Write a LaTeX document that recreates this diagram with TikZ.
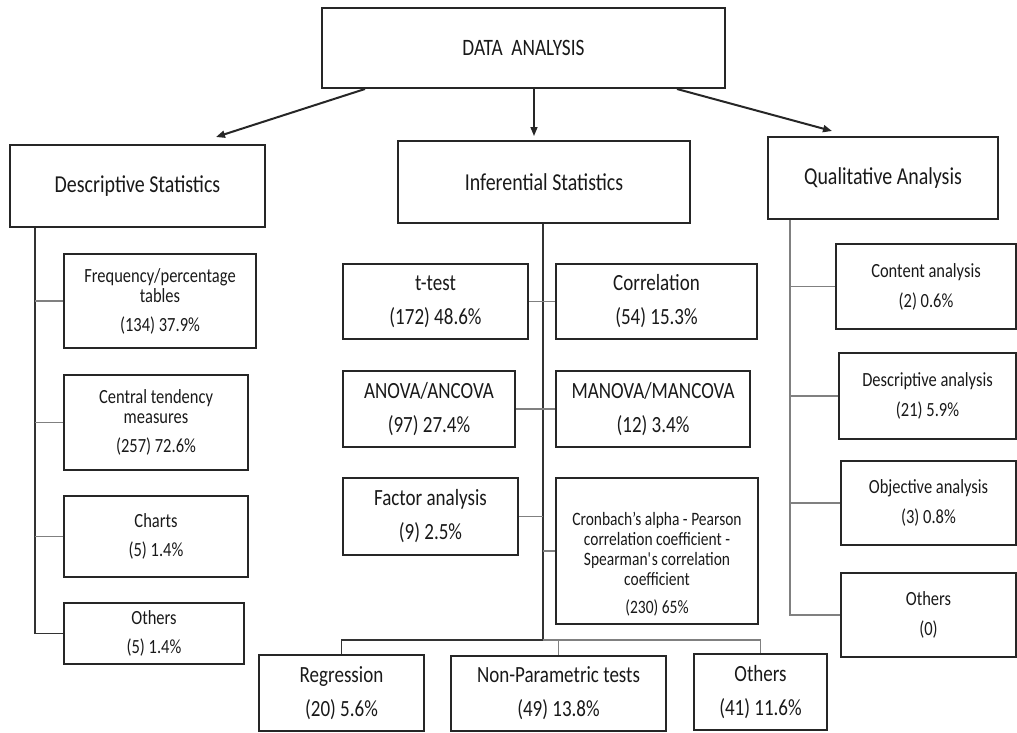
\documentclass[tikz,border=0pt]{standalone}
\usepackage{fontspec}
\setmainfont[FakeStretch=0.82]{Carlito}
\usetikzlibrary{arrows.meta}

\begin{document}
\begin{tikzpicture}[x=1pt, y=-1pt,
        box/.style={draw=black!85, line width=2pt, align=center, inner sep=0pt, text=black!90},
        hdr/.style={box, font=\fontsize{24.3}{26}\selectfont},
        sub/.style={box, font=\fontsize{20.1}{20}\selectfont},
        big/.style={box, font=\fontsize{23.2}{23}\selectfont},
        link/.style={draw=black!50, line width=1.5pt},
        trunk/.style={draw=black!80, line width=1.5pt},
        arr/.style={draw=black!85, line width=2pt, -{Triangle[length=9pt,width=7pt]}}]
        \useasboundingbox (0,0) rectangle (1017,732);

        \node[box, minimum width=403pt, minimum height=80pt, font=\fontsize{23.5}{24}\selectfont] (top) at (523.5,48) {DATA\ \ ANALYSIS};
        \node[hdr, minimum width=255pt, minimum height=82pt] (desc) at (137.5,186) {Descriptive Statistics};
        \node[hdr, minimum width=292pt, minimum height=82pt] (infer) at (544,182) {Inferential Statistics};
        \node[hdr, minimum width=230pt, minimum height=82pt] (qual) at (883,178) {Qualitative Analysis};

        % descriptive
        \node[sub, minimum width=192pt, minimum height=94pt] (freq) at (160,301) {Frequency/percentage\\tables\\[9pt](134) 37.9\%};
        \node[sub, minimum width=184pt, minimum height=95pt] (central) at (156,422.5) {Central tendency\\measures\\[9pt](257) 72.6\%};
        \node[sub, minimum width=184pt, minimum height=81pt] (charts) at (156,536.5) {Charts\\[9pt](5) 1.4\%};
        \node[sub, minimum width=180pt, minimum height=61pt] (oth1) at (154,633.5) {Others\\[9pt](5) 1.4\%};

        % inferential
        \node[big, minimum width=185pt, minimum height=75pt] (ttest) at (435.5,301.5) {t-test\\[11pt](172) 48.6\%};
        \node[big, minimum width=201pt, minimum height=75pt] (corr) at (656.5,301.5) {Correlation\\[11pt](54) 15.3\%};
        \node[big, minimum width=172pt, minimum height=76pt] (anova) at (429,409) {ANOVA/ANCOVA\\[11pt](97) 27.4\%};
        \node[big, minimum width=194pt, minimum height=76pt] (manova) at (653,409) {MANOVA/MANCOVA\\[11pt](12) 3.4\%};
        \node[big, minimum width=175pt, minimum height=77pt] (factor) at (430.5,516.5) {Factor analysis\\[11pt](9) 2.5\%};
        \node[box, minimum width=202pt, minimum height=146pt, font=\fontsize{18.9}{20}\selectfont] (cronb) at (657,551)
            {\mbox{}\\[20pt]Cronbach’s alpha - Pearson\\correlation coefficient -\\Spearman\textquotesingle s correlation\\coefficient\\[8pt](230) 65\%};
        \node[big, minimum width=165pt, minimum height=76pt] (regr) at (341.5,693) {Regression\\[11pt](20) 5.6\%};
        \node[big, minimum width=215pt, minimum height=75pt] (nonpar) at (558.5,693.5) {Non-Parametric tests\\[11pt](49) 13.8\%};
        \node[big, minimum width=133pt, minimum height=76pt] (oth2) at (760.5,692) {Others\\[11pt](41) 11.6\%};

        % qualitative
        \node[sub, minimum width=180pt, minimum height=85pt] (content) at (926,286.5) {Content analysis\\[10pt](2) 0.6\%};
        \node[sub, minimum width=177pt, minimum height=86pt] (descan) at (927.5,396) {Descriptive analysis\\[10pt](21) 5.9\%};
        \node[sub, minimum width=175pt, minimum height=84pt] (objan) at (928.5,503) {Objective analysis\\[10pt](3) 0.8\%};
        \node[sub, minimum width=175pt, minimum height=84pt] (oth3) at (928.5,615) {Others\\[10pt](0)};

        % arrows from the top
        \draw[arr] ([xshift=44pt]top.south west) -- ([xshift=207pt,yshift=7pt]desc.north west);
        \draw[arr, line width=1.5pt] ([xshift=10.5pt]top.south) -- ([xshift=-10pt,yshift=4pt]infer.north);
        \draw[arr] ([xshift=-49pt]top.south east) -- ([xshift=65pt,yshift=5pt]qual.north west);

        % descriptive tree
        \coordinate (dt) at ([xshift=26pt]desc.south west);
        \draw[trunk] (dt) |- (oth1.west);
        \foreach \n in {freq,central,charts}
            \draw[link] (\n.west) -- (\n.west -| dt);

        % inferential tree
        \draw[trunk] ([xshift=-1pt]infer.south) -- ++(0,416) coordinate (bus);
        \draw[trunk] (bus) -| (regr.north);
        \draw[link] (bus) -| (nonpar.north);
        \draw[link] (bus) -| (oth2.north);
        \draw[link] (ttest.east) -- (corr.west);
        \draw[link] (anova.east) -- (manova.west);
        \draw[link] (factor.east) -- (factor.east -| bus);
        \draw[link] (cronb.west) -- (cronb.west -| bus);

        % qualitative tree
        \coordinate (qt) at ([xshift=23pt]qual.south west);
        \draw[link] (qt) |- (oth3.west);
        \foreach \n in {content,descan,objan}
            \draw[link] (\n.west) -- (\n.west -| qt);
    \end{tikzpicture}
\end{document}
